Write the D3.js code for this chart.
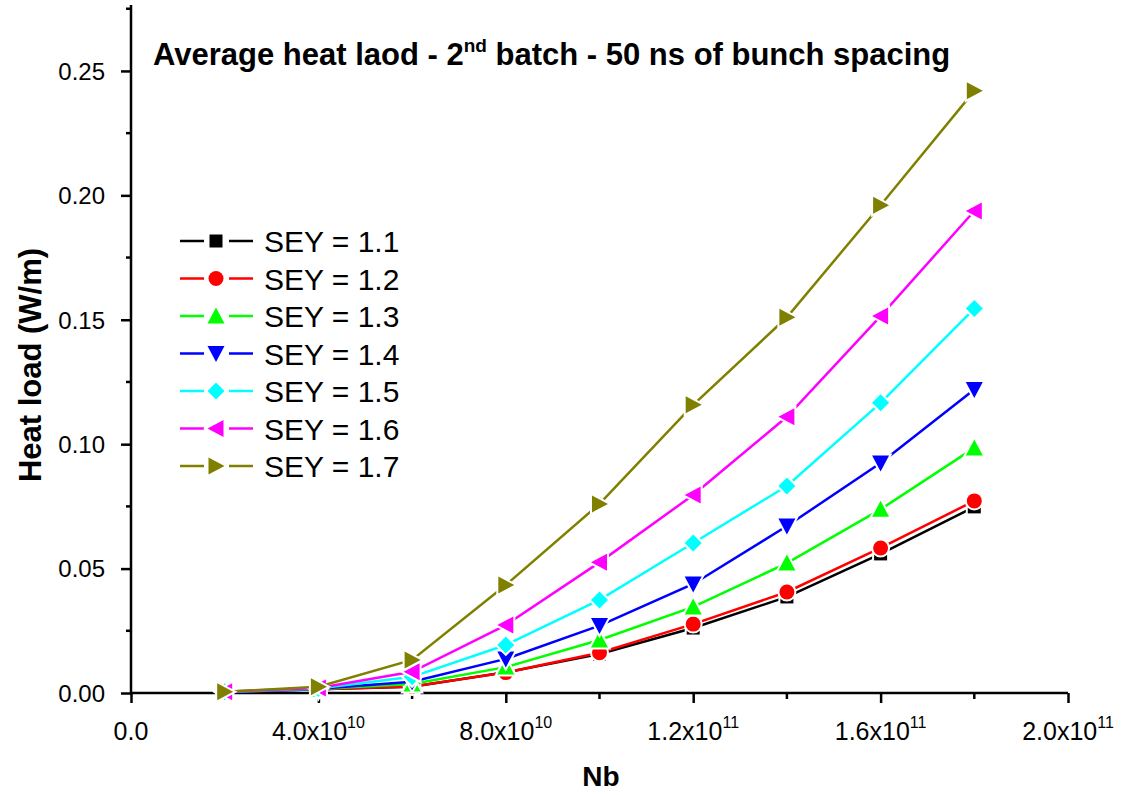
<!DOCTYPE html>
<html>
  <head>
    <meta charset="UTF-8" />
    <title>Average heat load</title>
    <script src="https://d3js.org/d3.v7.min.js"></script>
    <style>
      * { margin: 0; padding: 0; }
      body { background: #ffffff; }
      svg { display: block; }
      text { font-family: Arial, "Liberation Sans", sans-serif; fill: #000; }
      .narrow { font-family: "Liberation Sans Narrow", "Arial Narrow", Arial, sans-serif; }
    </style>
  </head>
  <body>
    <svg id="chart" width="1123" height="795"></svg>
  </body>
  <script>
    // bunch population (protons per bunch)
    const nb = [2e10, 4e10, 6e10, 8e10, 1e11, 1.2e11, 1.4e11, 1.6e11, 1.8e11];

    const sey11 = [0.0003, 0.0015, 0.0025, 0.0083, 0.0157, 0.0261, 0.0386, 0.0559, 0.0748];
    const sey12 = [0.0003, 0.0015, 0.0026, 0.0082, 0.0162, 0.0277, 0.0406, 0.0583, 0.0772];
    const sey13 = [0.0004, 0.0016, 0.0036, 0.0104, 0.0213, 0.0346, 0.0522, 0.0738, 0.0985];
    const sey14 = [0.0004, 0.0017, 0.0045, 0.0137, 0.0271, 0.0438, 0.0671, 0.0924, 0.1220];
    const sey15 = [0.0005, 0.0018, 0.0065, 0.0193, 0.0374, 0.0603, 0.0832, 0.1166, 0.1545];
    const sey16 = [0.0005, 0.0020, 0.0085, 0.0273, 0.0525, 0.0796, 0.1110, 0.1515, 0.1937];
    const sey17 = [0.0005, 0.0025, 0.0133, 0.0434, 0.0760, 0.1158, 0.1510, 0.1960, 0.2420];

    const seriesNames = ["SEY = 1.1", "SEY = 1.2", "SEY = 1.3", "SEY = 1.4", "SEY = 1.5", "SEY = 1.6", "SEY = 1.7"];
    const seriesValues = [sey11, sey12, sey13, sey14, sey15, sey16, sey17];
    const colors = ["#000000", "#ff0000", "#00ff00", "#0000ff", "#00ffff", "#ff00ff", "#808000"];
    const shapes = ["square", "circle", "up", "down", "diamond", "left", "right"];

    const yTicks = [0.00, 0.05, 0.10, 0.15, 0.20, 0.25];
    const yMinor = [0.025, 0.075, 0.125, 0.175, 0.225, 0.275];
    const xTicks = [0, 4e10, 8e10, 1.2e11, 1.6e11, 2e11];
    const xMinor = [2e10, 6e10, 1e11, 1.4e11, 1.8e11];
    const xTickLabels = [["0.0", ""], ["4.0x10", "10"], ["8.0x10", "10"], ["1.2x10", "11"], ["1.6x10", "11"], ["2.0x10", "11"]];

    const svg = d3.select("#chart");
    const plotLeft = 131, plotRight = 1068, plotTop = 5, plotBottom = 693;

    const x = d3.scaleLinear().domain([0, 2e11]).range([plotLeft, plotRight]);
    const y = d3.scaleLinear().domain([0, 0.2765]).range([plotBottom, plotTop]);

    // marker path generator, centred on 0,0
    function markerPath(shape) {
      const s = 8.5;
      switch (shape) {
        case "square": return `M-6.5,-6.5H6.5V6.5H-6.5Z`;
        case "up": return `M0,${-s}L${s},${s - 1}L${-s},${s - 1}Z`;
        case "down": return `M0,${s}L${s},${-s + 1}L${-s},${-s + 1}Z`;
        case "left": return `M${-s},0L${s - 1},${-s}L${s - 1},${s}Z`;
        case "right": return `M${s},0L${-s + 1},${-s}L${-s + 1},${s}Z`;
        case "diamond": return `M0,${-s}L${s},0L0,${s}L${-s},0Z`;
      }
    }

    function drawMarker(g, shape, color, cx, cy) {
      let m;
      if (shape === "circle") {
        m = g.append("circle").attr("cx", cx).attr("cy", cy).attr("r", 7.5);
      } else {
        m = g.append("path").attr("d", markerPath(shape))
          .attr("transform", `translate(${cx},${cy})`);
      }
      // white halo gives the small gap between line and symbol
      m.attr("fill", color).attr("stroke", "#fff").attr("stroke-width", 4)
        .style("paint-order", "stroke");
    }

    // axes
    const yAxis = d3.axisLeft(y).tickValues(yTicks).tickSize(10).tickFormat(d3.format(".2f"));
    const yAxisG = svg.append("g").attr("transform", `translate(${plotLeft},0)`).call(yAxis);
    yAxisG.select(".domain").attr("d", `M0,${plotTop}V${plotBottom}`).attr("stroke-width", 2.5);
    yAxisG.selectAll(".tick line").attr("stroke-width", 2.5);
    yAxisG.selectAll(".tick text").attr("x", -26).attr("dy", "0.35em")
      .style("font-family", "Arial, 'Liberation Sans', sans-serif").style("font-size", "24px");
    // minor y ticks
    svg.append("g").selectAll("line")
      .data(yMinor)
      .join("line")
      .attr("x1", plotLeft - 5).attr("x2", plotLeft)
      .attr("y1", d => y(d)).attr("y2", d => y(d))
      .attr("stroke", "#000").attr("stroke-width", 2.5);

    const xAxis = d3.axisBottom(x).tickValues(xTicks).tickSize(10).tickFormat("");
    const xAxisG = svg.append("g").attr("transform", `translate(0,${plotBottom})`).call(xAxis);
    xAxisG.select(".domain").attr("d", `M${plotLeft},0H${plotRight}`).attr("stroke-width", 2.5);
    xAxisG.selectAll(".tick line").attr("stroke-width", 2.5);
    svg.append("g").selectAll("line")
      .data(xMinor)
      .join("line")
      .attr("x1", d => x(d)).attr("x2", d => x(d))
      .attr("y1", plotBottom).attr("y2", plotBottom + 6)
      .attr("stroke", "#000").attr("stroke-width", 2.5);

    // x tick labels with superscript exponents
    xTicks.forEach((t, i) => {
      const lab = xTickLabels[i];
      const tx = svg.append("text")
        .attr("x", x(t)).attr("y", 740)
        .attr("text-anchor", "middle").style("font-size", "25px");
      tx.append("tspan").text(lab[0]);
      if (lab[1]) tx.append("tspan").attr("dy", -12).style("font-size", "16px").text(lab[1]);
    });

    // axis titles
    svg.append("text").attr("x", 601).attr("y", 786).attr("text-anchor", "middle")
      .style("font-size", "28px").style("font-weight", "bold").text("Nb");
    svg.append("text").attr("transform", "translate(41,365) rotate(-90)").attr("text-anchor", "middle")
      .style("font-size", "31px").style("font-weight", "bold").text("Heat load (W/m)");

    // title
    const title = svg.append("text").attr("class", "narrow").attr("x", 153).attr("y", 65)
      .style("font-size", "31px").style("font-weight", "bold");
    title.append("tspan").text("Average heat laod - 2");
    title.append("tspan").attr("dy", -13).style("font-size", "19px").text("nd");
    title.append("tspan").attr("dy", 13).text(" batch - 50 ns of bunch spacing");

    // series lines and markers
    const line = d3.line().x((d, i) => x(nb[i])).y(d => y(d));
    seriesValues.forEach((vals, k) => {
      const g = svg.append("g");
      g.append("path").attr("d", line(vals)).attr("fill", "none")
        .attr("stroke", colors[k]).attr("stroke-width", 2.5);
      vals.forEach((v, i) => drawMarker(g, shapes[k], colors[k], x(nb[i]), y(v)));
    });

    // legend
    const legend = svg.append("g");
    seriesNames.forEach((name, k) => {
      const ly = 241 + k * 37.5;
      legend.append("line").attr("x1", 180).attr("x2", 204).attr("y1", ly).attr("y2", ly)
        .attr("stroke", colors[k]).attr("stroke-width", 2.5);
      legend.append("line").attr("x1", 229).attr("x2", 253).attr("y1", ly).attr("y2", ly)
        .attr("stroke", colors[k]).attr("stroke-width", 2.5);
      drawMarker(legend, shapes[k], colors[k], 216, ly);
      legend.append("text").attr("x", 264).attr("y", ly + 11).style("font-size", "30px").text(name);
    });
  </script>
</html>
